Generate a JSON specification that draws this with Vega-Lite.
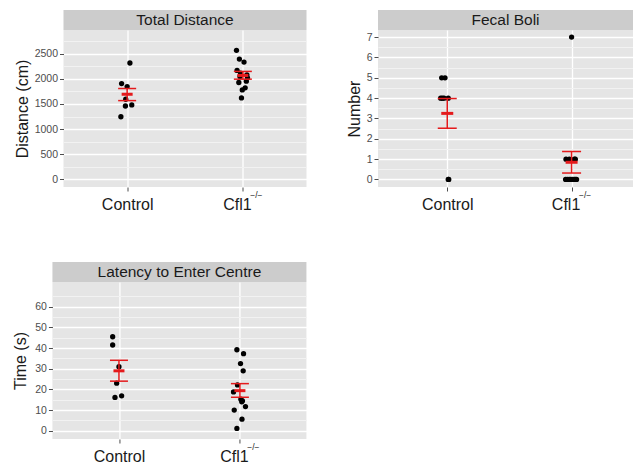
{
  "$schema": "https://vega.github.io/schema/vega-lite/v6.json",
  "padding": {"left": 12, "top": 10, "right": 0, "bottom": 0},
  "background": "white",
  "config": {"font": "Liberation Sans", "view": {"stroke": null}},
  "datasets": {
    "td": [
      {"group": "Control", "pos": 1.024, "value": 2314},
      {"group": "Control", "pos": 0.952, "value": 1906},
      {"group": "Control", "pos": 1.0, "value": 1846},
      {"group": "Control", "pos": 0.988, "value": 1594},
      {"group": "Control", "pos": 0.985, "value": 1460},
      {"group": "Control", "pos": 1.04, "value": 1480},
      {"group": "Control", "pos": 0.946, "value": 1246},
      {"group": "Cfl1", "pos": 1.945, "value": 2567},
      {"group": "Cfl1", "pos": 1.97, "value": 2393},
      {"group": "Cfl1", "pos": 2.01, "value": 2333},
      {"group": "Cfl1", "pos": 1.95, "value": 2167},
      {"group": "Cfl1", "pos": 1.98, "value": 2113},
      {"group": "Cfl1", "pos": 2.035, "value": 2080},
      {"group": "Cfl1", "pos": 1.975, "value": 2047},
      {"group": "Cfl1", "pos": 2.04, "value": 2020},
      {"group": "Cfl1", "pos": 2.03, "value": 1953},
      {"group": "Cfl1", "pos": 1.965, "value": 1927},
      {"group": "Cfl1", "pos": 2.02, "value": 1820},
      {"group": "Cfl1", "pos": 1.995, "value": 1780},
      {"group": "Cfl1", "pos": 1.988, "value": 1620}
    ],
    "td_s": [
      {"group": "Control", "pos": 1, "mean": 1693, "lo": 1567, "hi": 1807},
      {"group": "Cfl1", "pos": 2, "mean": 2067, "lo": 1993, "hi": 2147}
    ],
    "fb": [
      {"group": "Control", "pos": 0.955, "value": 5},
      {"group": "Control", "pos": 0.982, "value": 5},
      {"group": "Control", "pos": 0.947, "value": 4},
      {"group": "Control", "pos": 0.974, "value": 4},
      {"group": "Control", "pos": 1.008, "value": 4},
      {"group": "Control", "pos": 0.96, "value": 4},
      {"group": "Control", "pos": 1.008, "value": 0},
      {"group": "Control", "pos": 1.012, "value": 0},
      {"group": "Cfl1", "pos": 2.0, "value": 7},
      {"group": "Cfl1", "pos": 1.955, "value": 1},
      {"group": "Cfl1", "pos": 1.982, "value": 1},
      {"group": "Cfl1", "pos": 2.022, "value": 1},
      {"group": "Cfl1", "pos": 2.03, "value": 1},
      {"group": "Cfl1", "pos": 1.952, "value": 0},
      {"group": "Cfl1", "pos": 1.965, "value": 0},
      {"group": "Cfl1", "pos": 1.98, "value": 0},
      {"group": "Cfl1", "pos": 1.992, "value": 0},
      {"group": "Cfl1", "pos": 2.005, "value": 0},
      {"group": "Cfl1", "pos": 2.02, "value": 0},
      {"group": "Cfl1", "pos": 2.03, "value": 0},
      {"group": "Cfl1", "pos": 2.04, "value": 0}
    ],
    "fb_s": [
      {"group": "Control", "pos": 1, "mean": 3.25, "lo": 2.52, "hi": 3.98},
      {"group": "Cfl1", "pos": 2, "mean": 0.846, "lo": 0.317, "hi": 1.375}
    ],
    "lat": [
      {"group": "Control", "pos": 0.948, "value": 45.5},
      {"group": "Control", "pos": 0.948, "value": 41.5},
      {"group": "Control", "pos": 1.0, "value": 31.0},
      {"group": "Control", "pos": 0.981, "value": 23.0},
      {"group": "Control", "pos": 0.967, "value": 16.1},
      {"group": "Control", "pos": 1.022, "value": 16.9},
      {"group": "Cfl1", "pos": 1.975, "value": 39.2},
      {"group": "Cfl1", "pos": 2.03, "value": 37.3},
      {"group": "Cfl1", "pos": 2.005, "value": 32.5},
      {"group": "Cfl1", "pos": 2.027, "value": 29.0},
      {"group": "Cfl1", "pos": 1.98, "value": 22.2},
      {"group": "Cfl1", "pos": 1.947, "value": 18.8},
      {"group": "Cfl1", "pos": 2.008, "value": 15.3},
      {"group": "Cfl1", "pos": 2.021, "value": 14.5},
      {"group": "Cfl1", "pos": 2.015, "value": 14.0},
      {"group": "Cfl1", "pos": 2.046, "value": 11.7},
      {"group": "Cfl1", "pos": 1.953, "value": 10.0},
      {"group": "Cfl1", "pos": 2.017, "value": 5.6},
      {"group": "Cfl1", "pos": 1.975, "value": 1.1}
    ],
    "lat_s": [
      {"group": "Control", "pos": 1, "mean": 29.0, "lo": 24.0, "hi": 34.1},
      {"group": "Cfl1", "pos": 2, "mean": 19.4, "lo": 16.2, "hi": 22.8}
    ]
  },
  "columns": 2,
  "align": "each",
  "center": {"column": true, "row": false},
  "spacing": {"row": 50, "column": 28},
  "concat": [
    {
      "spacing": 0,
      "vconcat": [
        {
          "width": 243, "height": 20,
          "view": {"fill": "#cccccc", "stroke": null},
          "data": {"values": [{"t": "Total Distance"}]},
          "mark": {"type": "text", "fontSize": 15.5, "font": "Liberation Sans", "color": "#1a1a1a", "baseline": "middle"},
          "encoding": {"text": {"field": "t"}}
        },
        {
          "width": 243, "height": 157,
          "view": {"fill": "#e5e5e5", "stroke": null},
          "resolve": {"axis": {"x": "independent", "y": "independent"}},
          "layer": [
            {
              "data": {"name": "td"},
              "mark": {"type": "circle", "size": 28, "color": "black", "opacity": 1},
              "encoding": {
                "x": {"field": "pos", "type": "quantitative", "scale": {"domain": [0.45, 2.55], "nice": false, "zero": false},
                  "axis": {"orient": "bottom", "values": [2], "labelExpr": "'−/−'", "labelFontSize": 8.5, "labelOffset": 13, "labelPadding": 3.5, "ticks": false, "tickSize": 0, "domain": false, "grid": false, "title": null, "labelColor": "#1a1a1a", "labelFlush": false}},
                "y": {"field": "value", "type": "quantitative", "scale": {"domain": [-150, 2970], "nice": false, "zero": false},
                  "axis": {"orient": "left", "values": [250, 750, 1250, 1750, 2250, 2750], "grid": true, "gridColor": "#f2f2f2", "gridWidth": 1, "labels": false, "ticks": false, "domain": false, "title": null}}
              }
            },
            {
              "data": {"name": "td_s"},
              "mark": {"type": "rule", "color": "#e41a1c", "strokeWidth": 1.5},
              "encoding": {
                "x": {"field": "pos", "type": "quantitative",
                  "axis": {"orient": "bottom", "values": [1, 2], "labelExpr": "datum.value == 1 ? 'Control' : 'Cfl1'", "labelFontSize": 16, "labelColor": "#1a1a1a", "labelPadding": 5, "labelOffset": {"condition": {"test": "datum.value == 2", "value": -6}, "value": 0}, "tickSize": 4, "tickColor": "#4d4d4d", "domain": false, "grid": true, "gridColor": "white", "gridWidth": 1.3, "title": null, "labelFlush": false}},
                "y": {"field": "lo", "type": "quantitative",
                  "axis": {"orient": "left", "values": [0, 500, 1000, 1500, 2000, 2500], "format": "d", "grid": true, "gridColor": "white", "gridWidth": 1.3, "tickSize": 4, "tickColor": "#4d4d4d", "labelFontSize": 10.5, "labelColor": "#4d4d4d", "labelPadding": 2, "labelFlush": false, "domain": false, "title": "Distance (cm)", "titleFontSize": 16, "titleFontWeight": "normal", "titleColor": "#1a1a1a", "titlePadding": 4}},
                "y2": {"field": "hi"}
              }
            },
            {
              "data": {"name": "td_s"},
              "mark": {"type": "tick", "orient": "horizontal", "size": 18, "thickness": 1.5, "color": "#e41a1c", "opacity": 1},
              "encoding": {"x": {"field": "pos", "type": "quantitative", "axis": null}, "y": {"field": "lo", "type": "quantitative", "axis": null}}
            },
            {
              "data": {"name": "td_s"},
              "mark": {"type": "tick", "orient": "horizontal", "size": 18, "thickness": 1.5, "color": "#e41a1c", "opacity": 1},
              "encoding": {"x": {"field": "pos", "type": "quantitative", "axis": null}, "y": {"field": "hi", "type": "quantitative", "axis": null}}
            },
            {
              "data": {"name": "td_s"},
              "mark": {"type": "tick", "orient": "horizontal", "size": 11, "thickness": 3, "color": "#e41a1c", "opacity": 1},
              "encoding": {"x": {"field": "pos", "type": "quantitative", "axis": null}, "y": {"field": "mean", "type": "quantitative", "axis": null}}
            }
          ]
        }
      ]
    },
    {
      "spacing": 0,
      "vconcat": [
        {
          "width": 255, "height": 20,
          "view": {"fill": "#cccccc", "stroke": null},
          "data": {"values": [{"t": "Fecal Boli"}]},
          "mark": {"type": "text", "fontSize": 15.5, "font": "Liberation Sans", "color": "#1a1a1a", "baseline": "middle"},
          "encoding": {"text": {"field": "t"}}
        },
        {
          "width": 255, "height": 157,
          "view": {"fill": "#e5e5e5", "stroke": null},
          "resolve": {"axis": {"x": "independent", "y": "independent"}},
          "layer": [
            {
              "data": {"name": "fb"},
              "mark": {"type": "circle", "size": 28, "color": "black", "opacity": 1},
              "encoding": {
                "x": {"field": "pos", "type": "quantitative", "scale": {"domain": [0.443, 2.494], "nice": false, "zero": false},
                  "axis": {"orient": "bottom", "values": [2], "labelExpr": "'−/−'", "labelFontSize": 8.5, "labelOffset": 13, "labelPadding": 3.5, "ticks": false, "tickSize": 0, "domain": false, "grid": false, "title": null, "labelColor": "#1a1a1a", "labelFlush": false}},
                "y": {"field": "value", "type": "quantitative", "scale": {"domain": [-0.37, 7.35], "nice": false, "zero": false},
                  "axis": {"orient": "left", "values": [0.5, 1.5, 2.5, 3.5, 4.5, 5.5, 6.5], "grid": true, "gridColor": "#f2f2f2", "gridWidth": 1, "labels": false, "ticks": false, "domain": false, "title": null}}
              }
            },
            {
              "data": {"name": "fb_s"},
              "mark": {"type": "rule", "color": "#e41a1c", "strokeWidth": 1.5},
              "encoding": {
                "x": {"field": "pos", "type": "quantitative",
                  "axis": {"orient": "bottom", "values": [1, 2], "labelExpr": "datum.value == 1 ? 'Control' : 'Cfl1'", "labelFontSize": 16, "labelColor": "#1a1a1a", "labelPadding": 5, "labelOffset": {"condition": {"test": "datum.value == 2", "value": -6}, "value": 0}, "tickSize": 4, "tickColor": "#4d4d4d", "domain": false, "grid": true, "gridColor": "white", "gridWidth": 1.3, "title": null, "labelFlush": false}},
                "y": {"field": "lo", "type": "quantitative",
                  "axis": {"orient": "left", "values": [0, 1, 2, 3, 4, 5, 6, 7], "format": "d", "grid": true, "gridColor": "white", "gridWidth": 1.3, "tickSize": 4, "tickColor": "#4d4d4d", "labelFontSize": 10.5, "labelColor": "#4d4d4d", "labelPadding": 2, "labelFlush": false, "domain": false, "title": "Number", "titleFontSize": 16, "titleFontWeight": "normal", "titleColor": "#1a1a1a", "titlePadding": 4}},
                "y2": {"field": "hi"}
              }
            },
            {
              "data": {"name": "fb_s"},
              "mark": {"type": "tick", "orient": "horizontal", "size": 19, "thickness": 1.5, "color": "#e41a1c", "opacity": 1},
              "encoding": {"x": {"field": "pos", "type": "quantitative", "axis": null}, "y": {"field": "lo", "type": "quantitative", "axis": null}}
            },
            {
              "data": {"name": "fb_s"},
              "mark": {"type": "tick", "orient": "horizontal", "size": 19, "thickness": 1.5, "color": "#e41a1c", "opacity": 1},
              "encoding": {"x": {"field": "pos", "type": "quantitative", "axis": null}, "y": {"field": "hi", "type": "quantitative", "axis": null}}
            },
            {
              "data": {"name": "fb_s"},
              "mark": {"type": "tick", "orient": "horizontal", "size": 12, "thickness": 3, "color": "#e41a1c", "opacity": 1},
              "encoding": {"x": {"field": "pos", "type": "quantitative", "axis": null}, "y": {"field": "mean", "type": "quantitative", "axis": null}}
            }
          ]
        }
      ]
    },
    {
      "spacing": 0,
      "vconcat": [
        {
          "width": 254, "height": 20,
          "view": {"fill": "#cccccc", "stroke": null},
          "data": {"values": [{"t": "Latency to Enter Centre"}]},
          "mark": {"type": "text", "fontSize": 15.5, "font": "Liberation Sans", "color": "#1a1a1a", "baseline": "middle"},
          "encoding": {"text": {"field": "t"}}
        },
        {
          "width": 254, "height": 157,
          "view": {"fill": "#e5e5e5", "stroke": null},
          "resolve": {"axis": {"x": "independent", "y": "independent"}},
          "layer": [
            {
              "data": {"name": "lat"},
              "mark": {"type": "circle", "size": 28, "color": "black", "opacity": 1},
              "encoding": {
                "x": {"field": "pos", "type": "quantitative", "scale": {"domain": [0.45, 2.55], "nice": false, "zero": false},
                  "axis": {"orient": "bottom", "values": [2], "labelExpr": "'−/−'", "labelFontSize": 8.5, "labelOffset": 13, "labelPadding": 3.5, "ticks": false, "tickSize": 0, "domain": false, "grid": false, "title": null, "labelColor": "#1a1a1a", "labelFlush": false}},
                "y": {"field": "value", "type": "quantitative", "scale": {"domain": [-4, 72], "nice": false, "zero": false},
                  "axis": {"orient": "right", "values": [5, 15, 25, 35, 45, 55, 65], "grid": true, "gridColor": "#f2f2f2", "gridWidth": 1, "labels": true, "labelOpacity": 0, "labelFontSize": 10, "labelPadding": 0, "labelFlush": false, "ticks": false, "domain": false, "title": null}}
              }
            },
            {
              "data": {"name": "lat_s"},
              "mark": {"type": "rule", "color": "#e41a1c", "strokeWidth": 1.5},
              "encoding": {
                "x": {"field": "pos", "type": "quantitative",
                  "axis": {"orient": "bottom", "values": [1, 2], "labelExpr": "datum.value == 1 ? 'Control' : 'Cfl1'", "labelFontSize": 16, "labelColor": "#1a1a1a", "labelPadding": 5, "labelOffset": {"condition": {"test": "datum.value == 2", "value": -6}, "value": 0}, "tickSize": 4, "tickColor": "#4d4d4d", "domain": false, "grid": true, "gridColor": "white", "gridWidth": 1.3, "title": null, "labelFlush": false}},
                "y": {"field": "lo", "type": "quantitative",
                  "axis": {"orient": "left", "values": [0, 10, 20, 30, 40, 50, 60], "format": "d", "grid": true, "gridColor": "white", "gridWidth": 1.3, "tickSize": 4, "tickColor": "#4d4d4d", "labelFontSize": 10.5, "labelColor": "#4d4d4d", "labelPadding": 2, "labelFlush": false, "domain": false, "title": "Time (s)", "titleFontSize": 16, "titleFontWeight": "normal", "titleColor": "#1a1a1a", "titlePadding": 6}},
                "y2": {"field": "hi"}
              }
            },
            {
              "data": {"name": "lat_s"},
              "mark": {"type": "tick", "orient": "horizontal", "size": 18, "thickness": 1.5, "color": "#e41a1c", "opacity": 1},
              "encoding": {"x": {"field": "pos", "type": "quantitative", "axis": null}, "y": {"field": "lo", "type": "quantitative", "axis": null}}
            },
            {
              "data": {"name": "lat_s"},
              "mark": {"type": "tick", "orient": "horizontal", "size": 18, "thickness": 1.5, "color": "#e41a1c", "opacity": 1},
              "encoding": {"x": {"field": "pos", "type": "quantitative", "axis": null}, "y": {"field": "hi", "type": "quantitative", "axis": null}}
            },
            {
              "data": {"name": "lat_s"},
              "mark": {"type": "tick", "orient": "horizontal", "size": 11, "thickness": 3, "color": "#e41a1c", "opacity": 1},
              "encoding": {"x": {"field": "pos", "type": "quantitative", "axis": null}, "y": {"field": "mean", "type": "quantitative", "axis": null}}
            }
          ]
        }
      ]
    }
  ]
}
